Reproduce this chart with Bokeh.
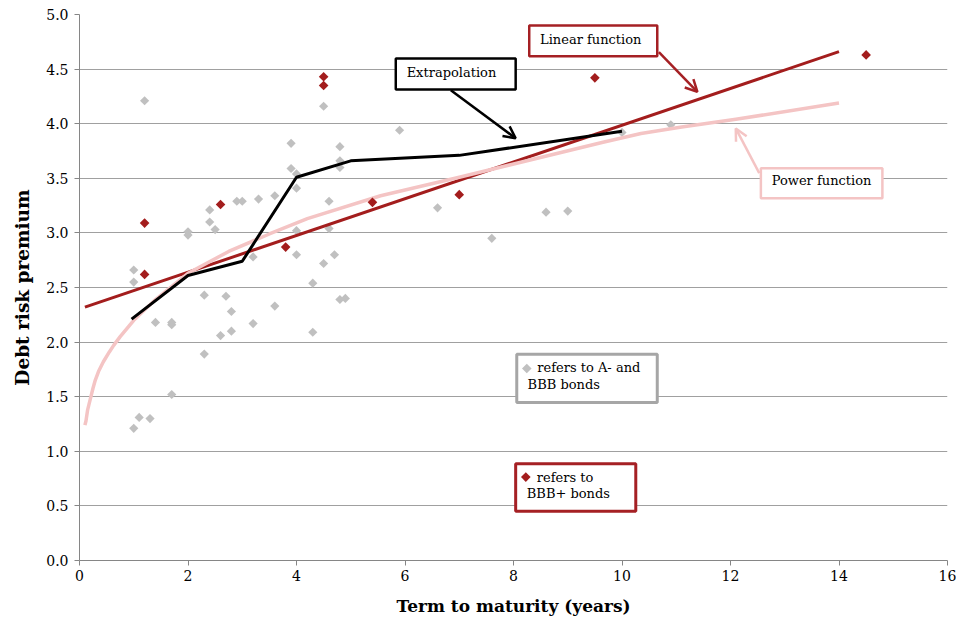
from bokeh.plotting import figure
from bokeh.models import (BoxAnnotation, Label, Arrow, OpenHead, FixedTicker,
                          NumeralTickFormatter, Range1d, ColumnDataSource)
from bokeh.embed import file_html
from bokeh.resources import INLINE
import math

# ---------------- data ----------------
gray_x = [1.2, 4.5, 3.9, 4.8, 3.9, 4.0, 4.8, 4.8, 4.0, 4.6, 2.4, 2.9, 3.0, 3.3, 3.6,
          2.4, 2.5, 2.0, 2.0, 4.0, 4.6, 3.2, 4.0, 4.7, 4.5, 1.0, 1.0, 4.3, 2.3, 2.7,
          2.8, 3.6, 4.8, 4.9, 1.4, 1.7, 1.7, 3.2, 2.6, 2.8, 4.3, 2.3, 1.7, 1.1, 1.3,
          1.0, 5.9, 10.0, 10.9, 6.6, 8.6, 9.0, 7.6]
gray_y = [4.21, 4.16, 3.82, 3.79, 3.59, 3.54, 3.66, 3.60, 3.41, 3.29, 3.21, 3.29, 3.29, 3.31, 3.34,
          3.10, 3.03, 3.01, 2.98, 3.02, 3.04, 2.78, 2.80, 2.80, 2.72, 2.66, 2.55, 2.54, 2.43, 2.42,
          2.28, 2.33, 2.39, 2.40, 2.18, 2.18, 2.16, 2.17, 2.06, 2.10, 2.09, 1.89, 1.52, 1.31, 1.30,
          1.21, 3.94, 3.92, 3.99, 3.23, 3.19, 3.20, 2.95]

red_x = [4.5, 4.5, 1.2, 2.6, 1.2, 3.8, 9.5, 7.0, 5.4, 14.5]
red_y = [4.43, 4.35, 3.09, 3.26, 2.62, 2.87, 4.42, 3.35, 3.28, 4.63]

linear_x = [0.1, 14.0]
linear_y = [2.32, 4.66]

power_x = [0.1, 0.12, 0.15, 0.2, 0.25, 0.29, 0.35, 0.44, 0.55, 0.63, 0.75, 1.0, 1.4, 2.0, 2.75,
           3.5, 4.2, 5.55, 7.0, 9.65, 10.35, 11.1, 12.1, 14.0]
power_y = [1.24, 1.28, 1.38, 1.48, 1.58, 1.65, 1.73, 1.82, 1.91, 1.97, 2.05, 2.20, 2.39, 2.63, 2.83,
           2.99, 3.13, 3.34, 3.51, 3.83, 3.91, 3.97, 4.04, 4.19]

extrap_x = [0.96, 2, 3, 4, 5, 7, 10]
extrap_y = [2.21, 2.61, 2.74, 3.51, 3.66, 3.71, 3.93]

x_ticks = [0, 2, 4, 6, 8, 10, 12, 14, 16]
y_ticks = [0.0, 0.5, 1.0, 1.5, 2.0, 2.5, 3.0, 3.5, 4.0, 4.5, 5.0]

# ---------------- style ----------------
FONT = "DejaVu Serif"
GRAY = "#c0c0c0"
RED = "#a31d1d"
PINK = "#f4c4c4"
DARK_RED = "#a52024"
BOX_GRAY = "#a6a6a6"
AXIS_GRAY = "#868686"

p = figure(width=956, height=618, output_backend="svg", toolbar_location=None,
           x_range=Range1d(0, 16), y_range=Range1d(0, 5),
           min_border_left=79, min_border_right=9, min_border_top=14, min_border_bottom=56)
p.outline_line_color = None
p.background_fill_color = "white"

p.xgrid.grid_line_color = None
p.ygrid.grid_line_color = "#a0a0a0"
p.ygrid.grid_line_width = 1

p.xaxis.ticker = FixedTicker(ticks=x_ticks)
p.yaxis.ticker = FixedTicker(ticks=y_ticks)
p.yaxis.formatter = NumeralTickFormatter(format="0.0")
for ax in (p.xaxis, p.yaxis):
    ax.axis_line_color = AXIS_GRAY
    ax.major_tick_line_color = AXIS_GRAY
    ax.major_tick_out = 5
    ax.major_tick_in = 0
    ax.minor_tick_line_color = None
    ax.major_label_text_font = FONT
    ax.major_label_text_font_size = "14px"
    ax.major_label_text_color = "black"
    ax.axis_label_text_font = FONT
    ax.axis_label_text_font_style = "bold"
    ax.axis_label_text_color = "black"

p.xaxis.axis_label_text_font_size = "17px"
p.yaxis.axis_label_text_font_size = "18.5px"
p.xaxis.axis_label = "Term to maturity (years)"
p.yaxis.axis_label = "Debt risk premium"
p.xaxis.major_label_standoff = 4
p.xaxis.axis_label_standoff = 12
p.yaxis.major_label_standoff = 6
p.yaxis.axis_label_standoff = 10

# ---------------- glyphs ----------------
ROT = math.pi / 4
p.scatter(gray_x, gray_y, marker="square", angle=ROT, size=6.5, fill_color=GRAY, line_color=None)
p.line(linear_x, linear_y, line_color=RED, line_width=3)
p.line(power_x, power_y, line_color=PINK, line_width=3.5, line_join="round")
p.line(extrap_x, extrap_y, line_color="black", line_width=3)
p.scatter(red_x, red_y, marker="square", angle=ROT, size=6.8, fill_color=RED, line_color=None)

# ---------------- annotations ----------------
def box(l, r, t, b, color, lw=2.5):
    p.add_layout(BoxAnnotation(left=l, right=r, top=t, bottom=b, fill_color="white", fill_alpha=1,
                               line_color=color, line_width=lw, line_alpha=1))

def text(x, y, s, size="13px"):
    p.add_layout(Label(x=x, y=y, text=s, text_font=FONT, text_font_size=size,
                       text_baseline="middle", text_align="left", text_color="black"))

# Extrapolation
box(5.83, 8.04, 4.596, 4.313, "black")
text(6.03, 4.468, "Extrapolation")
p.add_layout(Arrow(x_start=6.845, y_start=4.307, x_end=8.04, y_end=3.866,
                   line_color="black", line_width=2.5,
                   end=OpenHead(size=12, line_color="black", line_width=2.5)))

# Linear function
box(8.29, 10.65, 4.900, 4.617, DARK_RED)
text(8.49, 4.769, "Linear function")
p.add_layout(Arrow(x_start=10.68, y_start=4.656, x_end=11.39, y_end=4.291,
                   line_color=DARK_RED, line_width=2.5,
                   end=OpenHead(size=12, line_color=DARK_RED, line_width=2.5)))

# Power function
box(12.56, 14.80, 3.592, 3.318, PINK)
text(12.76, 3.476, "Power function")
p.add_layout(Arrow(x_start=12.53, y_start=3.547, x_end=12.097, y_end=3.957,
                   line_color=PINK, line_width=2.5,
                   end=OpenHead(size=12, line_color=PINK, line_width=2.5)))

# legend boxes
box(8.06, 10.65, 1.889, 1.448, BOX_GRAY, 3)
text(8.44, 1.767, "refers to A- and")
text(8.26, 1.615, "BBB bonds")
box(8.04, 10.254, 0.885, 0.450, DARK_RED, 3)
text(8.43, 0.764, "refers to")
text(8.245, 0.611, "BBB+ bonds")

leg_src = ColumnDataSource(dict(x=[8.245, 8.227], y=[1.758, 0.764], c=[GRAY, RED]))
lg = p.scatter("x", "y", source=leg_src, marker="square", angle=ROT, size=6.8,
               fill_color="c", line_color=None)
lg.level = "overlay"

open("out.html", "w").write(file_html(p, INLINE))
